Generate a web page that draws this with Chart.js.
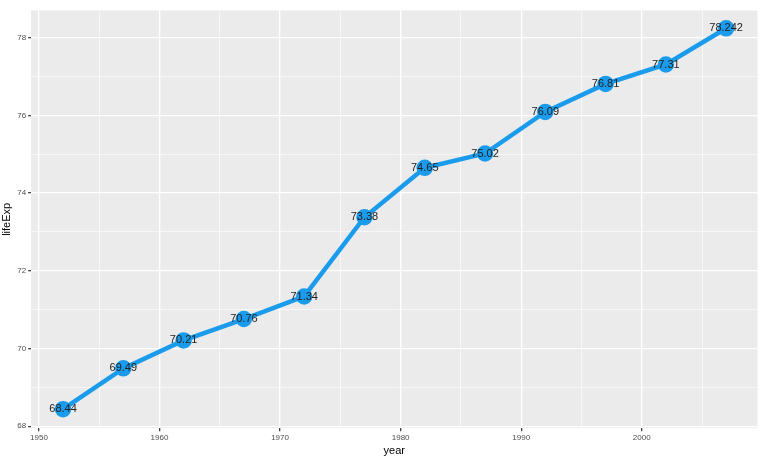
<!DOCTYPE html>
<html><head><meta charset="utf-8">
<script src="https://cdn.jsdelivr.net/npm/chart.js@4/dist/chart.umd.min.js"></script>
<style>html,body{margin:0;padding:0;background:#fff}#w{width:768px;height:458px}</style>
</head><body><div id="w"><canvas id="c"></canvas></div>
<script>
const years=[1952,1957,1962,1967,1972,1977,1982,1987,1992,1997,2002,2007];
const lifeExp=[68.44,69.49,70.21,70.76,71.34,73.38,74.65,75.02,76.09,76.81,77.31,78.242];
const labels=["68.44","69.49","70.21","70.76","71.34","73.38","74.65","75.02","76.09","76.81","77.31","78.242"];
const bgPlugin={id:'bg',beforeDraw(ch){const a=ch.chartArea,x=ch.ctx;x.save();x.fillStyle='#EBEBEB';x.fillRect(a.left,a.top,a.right-a.left,a.bottom-a.top);x.restore();}};
const lblPlugin={id:'lbl',afterDatasetsDraw(ch){const x=ch.ctx,m=ch.getDatasetMeta(0);x.save();x.font='11px "Liberation Sans", Arial';x.fillStyle='#222';x.textAlign='center';x.textBaseline='middle';m.data.forEach((p,i)=>x.fillText(labels[i],p.x,p.y));x.restore();}};
new Chart(document.getElementById('c'),{type:'line',
data:{datasets:[{data:years.map((y,i)=>({x:y,y:lifeExp[i]})),borderColor:'#1A9BEB',backgroundColor:'#1A9BEB',borderWidth:4.5,pointRadius:6,pointHoverRadius:6,tension:0}]},
options:{responsive:true,maintainAspectRatio:false,animation:false,
layout:{padding:{top:-5,right:-5,left:0,bottom:0}},
plugins:{legend:{display:false},tooltip:{enabled:false}},
scales:{
x:{type:'linear',min:1949.35,max:2009.6,border:{display:false},
 afterBuildTicks(s){s.ticks=[];for(let v=1950;v<=2005;v+=5)s.ticks.push({value:v});},
 grid:{color:'#fff',lineWidth:c=>c.tick&&c.tick.value%10===0?1.3:0.6,drawTicks:true,tickLength:3,tickColor:c=>c.tick&&c.tick.value%10===0?'#444':'rgba(0,0,0,0)'},
 ticks:{color:'#4d4d4d',font:{size:8,family:'Liberation Sans'},padding:2,maxRotation:0,autoSkip:false,callback:v=>v%10===0?v:''},
 title:{display:true,text:'year',color:'#000',font:{size:11,family:'Liberation Sans'},padding:{top:0,bottom:0}}},
y:{min:67.95,max:78.7,border:{display:false},
 afterBuildTicks(s){s.ticks=[];for(let v=68;v<=78.5;v+=1)s.ticks.push({value:v});},
 grid:{color:'#fff',lineWidth:c=>c.tick&&c.tick.value%2===0?1.3:0.6,drawTicks:true,tickLength:3,tickColor:c=>c.tick&&c.tick.value%2===0?'#444':'rgba(0,0,0,0)'},
 ticks:{color:'#4d4d4d',font:{size:8,family:'Liberation Sans'},padding:2,autoSkip:false,callback:v=>v%2===0?v:''},
 title:{display:true,text:'lifeExp',color:'#000',font:{size:11,family:'Liberation Sans'},padding:{top:0,bottom:2}}}}},
plugins:[bgPlugin,lblPlugin]});
</script></body></html>
